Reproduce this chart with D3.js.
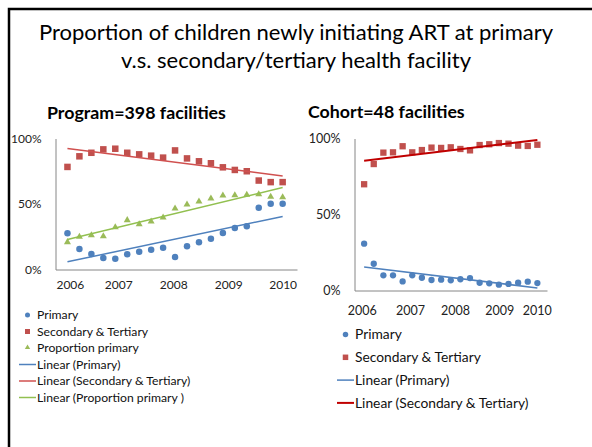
<!DOCTYPE html>
<html>
<head>
<meta charset="utf-8">
<script src="https://cdn.jsdelivr.net/npm/d3@7"></script>
<style>
  body { margin: 0; background: #fff; }
  svg { display: block; font-family: Lato, 'Liberation Sans', sans-serif; }
</style>
</head>
<body>
<svg id="slide" width="592" height="447"></svg>
<script>
// quarterly periods, 2006 to 2010
const periods = [0, 1, 2, 3, 4, 5, 6, 7, 8, 9, 10, 11, 12, 13, 14, 15, 16, 17, 18];
const yearLabels = ['2006', '2007', '2008', '2009', '2010'];
// where Excel put the year labels (in period units)
const programYearPos = [0.2, 4.25, 8.85, 13.45, 18];
const cohortYearPos = [-0.25, 4.77, 9.44, 14.04, 17.93];
const pctTicks = [0, 0.5, 1];

// Program = 398 facilities
const programPrimary = [0.276, 0.156, 0.118, 0.088, 0.082, 0.116, 0.136, 0.151, 0.166, 0.095,
  0.177, 0.208, 0.235, 0.279, 0.317, 0.330, 0.472, 0.502, 0.502];
const programSecondary = [0.783, 0.864, 0.891, 0.917, 0.922, 0.891, 0.879, 0.869, 0.854, 0.909,
  0.848, 0.826, 0.811, 0.780, 0.760, 0.750, 0.679, 0.667, 0.667];
const programProportion = [0.205, 0.246, 0.258, 0.250, 0.319, 0.373, 0.342, 0.363, 0.393, 0.462,
  0.492, 0.515, 0.538, 0.561, 0.563, 0.566, 0.571, 0.551, 0.548];

// Cohort = 48 facilities
const cohortPrimary = [0.308, 0.176, 0.100, 0.100, 0.060, 0.100, 0.084, 0.069, 0.071, 0.067,
  0.074, 0.082, 0.051, 0.047, 0.038, 0.043, 0.051, 0.058, 0.049];
const cohortSecondary = [0.699, 0.832, 0.907, 0.909, 0.949, 0.909, 0.924, 0.940, 0.938, 0.942,
  0.931, 0.922, 0.957, 0.962, 0.970, 0.966, 0.953, 0.951, 0.959];

const blue = '#4f81bd';
const red = '#c0504d';
const green = '#9bbb59';

const svg = d3.select('#slide');

// slide frame
svg.append('rect')
  .attr('x', 9).attr('y', 9)
  .attr('width', 700).attr('height', 600)
  .attr('fill', 'none')
  .attr('stroke', '#000')
  .attr('stroke-width', 2.5);

// slide title
const title = svg.append('text')
  .attr('text-anchor', 'middle')
  .attr('font-size', 22)
  .attr('fill', '#000');
title.append('tspan').attr('x', 296).attr('y', 40)
  .text('Proportion of children newly initiating ART at primary');
title.append('tspan').attr('x', 296).attr('y', 68)
  .text('v.s. secondary/tertiary health facility');

// least squares line, same as Excel's linear trendline
function linearFit(xs, ys) {
  const mx = d3.mean(xs), my = d3.mean(ys);
  let num = 0, den = 0;
  xs.forEach((x, i) => {
    num += (x - mx) * (ys[i] - my);
    den += (x - mx) * (x - mx);
  });
  const slope = num / den;
  const icpt = my - slope * mx;
  return x => icpt + slope * x;
}

function drawMarker(g, shape, color, cx, cy, size) {
  if (shape === 'circle') {
    g.append('circle').attr('cx', cx).attr('cy', cy).attr('r', size / 2).attr('fill', color);
  } else if (shape === 'square') {
    g.append('rect').attr('x', cx - size / 2).attr('y', cy - size / 2)
      .attr('width', size).attr('height', size).attr('fill', color);
  } else {
    const sym = d3.symbol().type(d3.symbolTriangle).size(size * size * 0.5);
    g.append('path').attr('transform', `translate(${cx},${cy - 0.5})`).attr('d', sym()).attr('fill', color);
  }
}

function drawPanel(cfg) {
  const g = svg.append('g');

  const x = d3.scaleLinear().domain([-1, cfg.xMax]).range(cfg.xRange);
  const y = d3.scaleLinear().domain([0, 1]).range(cfg.yRange);

  g.append('text')
    .attr('x', cfg.titleX).attr('y', cfg.titleY)
    .attr('font-size', cfg.titleFont).attr('font-weight', 'bold')
    .text(cfg.title);

  // Y axis
  const yAxis = d3.axisLeft(y)
    .tickValues(pctTicks)
    .tickSize(0)
    .tickPadding(14)
    .tickFormat(d3.format('.0%'));
  const ya = g.append('g')
    .attr('transform', `translate(${cfg.xRange[0]},0)`)
    .call(yAxis);
  ya.select('.domain').attr('stroke', '#868686');
  ya.selectAll('text').attr('font-size', cfg.tickFont).attr('fill', '#222')
    .attr('font-family', 'Lato, sans-serif');

  // X axis
  const xAxis = d3.axisBottom(x)
    .tickValues(cfg.yearPos)
    .tickSize(0)
    .tickPadding(cfg.xPad)
    .tickFormat((d, i) => yearLabels[i]);
  const xa = g.append('g')
    .attr('transform', `translate(0,${cfg.yRange[0]})`)
    .call(xAxis);
  xa.select('.domain').attr('stroke', '#868686');
  xa.selectAll('text').attr('font-size', cfg.tickFont).attr('fill', '#222')
    .attr('font-family', 'Lato, sans-serif');

  // series markers
  cfg.series.forEach(s => {
    s.values.forEach((v, i) => {
      drawMarker(g, s.shape, s.color, x(periods[i]), y(v), cfg.markerSize);
    });
  });

  // trend lines
  cfg.series.forEach(s => {
    const fit = linearFit(periods, s.values);
    const line = d3.line().x(d => x(d)).y(d => y(fit(d)));
    g.append('path')
      .attr('d', line([periods[0], periods[periods.length - 1]]))
      .attr('fill', 'none')
      .attr('stroke', s.trendColor)
      .attr('stroke-width', s.trendWidth);
  });

  // legend
  const lg = g.append('g').attr('font-size', cfg.legendFont).attr('fill', '#111');
  const items = cfg.series.map(s => ({type: 'marker', s, label: s.name}))
    .concat(cfg.series.map(s => ({type: 'line', s, label: s.trendName})));
  items.forEach((it, i) => {
    const ly = cfg.legendY + i * cfg.legendStep;
    if (it.type === 'marker') {
      drawMarker(lg, it.s.shape, it.s.color, cfg.legendX + 8.5, ly, cfg.legendMarker);
    } else {
      lg.append('line')
        .attr('x1', cfg.legendX).attr('x2', cfg.legendX + 17)
        .attr('y1', ly).attr('y2', ly)
        .attr('stroke', it.s.trendColor)
        .attr('stroke-width', it.s.trendWidth);
    }
    lg.append('text')
      .attr('x', cfg.legendX + 18)
      .attr('y', ly)
      .attr('dy', '0.35em')
      .text(it.label);
  });
}

drawPanel({
  title: 'Program=398 facilities',
  titleX: 47, titleY: 119, titleFont: 17.8,
  xRange: [55.5, 297], xMax: 19.2,
  yRange: [269.5, 138.5],
  yearPos: programYearPos,
  xPad: 11,
  tickFont: 12,
  markerSize: 6.5,
  legendX: 19, legendY: 315, legendStep: 16.5, legendFont: 12.2, legendMarker: 5,
  series: [
    {name: 'Primary', values: programPrimary, shape: 'circle', color: blue,
      trendName: 'Linear (Primary)', trendColor: blue, trendWidth: 1.5},
    {name: 'Secondary & Tertiary', values: programSecondary, shape: 'square', color: red,
      trendName: 'Linear (Secondary & Tertiary)', trendColor: '#d0504f', trendWidth: 1.5},
    {name: 'Proportion primary', values: programProportion, shape: 'triangle', color: green,
      trendName: 'Linear (Proportion primary )', trendColor: '#92c050', trendWidth: 1.5}
  ]
});

drawPanel({
  title: 'Cohort=48 facilities',
  titleX: 308, titleY: 118, titleFont: 17.8,
  xRange: [354.5, 547], xMax: 19,
  yRange: [290.5, 138.5],
  yearPos: cohortYearPos,
  xPad: 16,
  tickFont: 12.5,
  markerSize: 6.3,
  legendX: 337, legendY: 334.5, legendStep: 22.8, legendFont: 13.8, legendMarker: 5.5,
  series: [
    {name: 'Primary', values: cohortPrimary, shape: 'circle', color: blue,
      trendName: 'Linear (Primary)', trendColor: blue, trendWidth: 1.5},
    {name: 'Secondary & Tertiary', values: cohortSecondary, shape: 'square', color: red,
      trendName: 'Linear (Secondary & Tertiary)', trendColor: '#c00000', trendWidth: 2}
  ]
});
</script>
</body>
</html>
